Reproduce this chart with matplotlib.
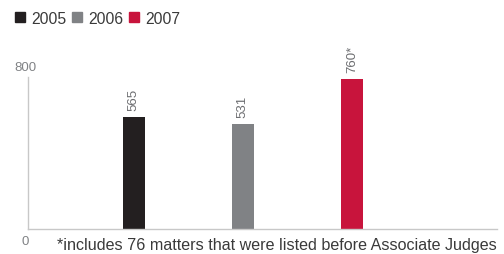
import matplotlib
matplotlib.use("Agg")
import matplotlib.pyplot as plt
from matplotlib.patches import Patch

years = ["2005", "2006", "2007"]
values = [565, 531, 760]
labels = ["565", "531", "760*"]
colors = ["#231f20", "#808285", "#c8143c"]
footnote = "*includes 76 matters that were listed before Associate Judges"

plt.rcParams['font.family'] = ['Liberation Sans', 'DejaVu Sans']

fig = plt.figure(figsize=(5.04, 2.55), dpi=100)
ax = fig.add_axes([28/504, 25/255, 469/504, 158/255])
x = list(range(len(years)))
ax.bar(x, values, width=0.2, color=colors)
ax.set_xlim(-0.97, 3.33)
ax.set_ylim(0, 800)
for xi, v, lab in zip(x, values, labels):
    ax.annotate(lab, (xi, v), xytext=(0, 5), textcoords="offset points",
                rotation=90, ha="center", va="bottom", fontsize=9.5, color="#6d6e71")
for s in ["top", "right"]:
    ax.spines[s].set_visible(False)
for s in ["left", "bottom"]:
    ax.spines[s].set_color("#c8c8c8")
    ax.spines[s].set_linewidth(1)
ax.spines["left"].set_bounds(0, 770)
ax.set_xticks([])
ax.set_yticks([])
fig.text(25/504, 1 - 68/255, "800", ha="center", va="center",
         fontsize=9.5, color="#808285")
fig.text(25/504, 1 - 242/255, "0", ha="center", va="center",
         fontsize=9.5, color="#808285")
fig.text(497/504, 1 - 246/255, footnote, ha="right", va="center", fontsize=11.6, color="#3a3a3a")
handles = [Patch(color=c) for c in colors]
fig.legend(handles, years, loc="center left", bbox_to_anchor=(15/504, 1 - 19/255), ncol=3,
           frameon=False, fontsize=11.3, handlelength=0.65, handleheight=0.65,
           handletextpad=0.4, columnspacing=0.35, borderaxespad=0.0, borderpad=0.0,
           labelcolor="#3a3a3a")
fig.savefig("out.png", dpi=100)
